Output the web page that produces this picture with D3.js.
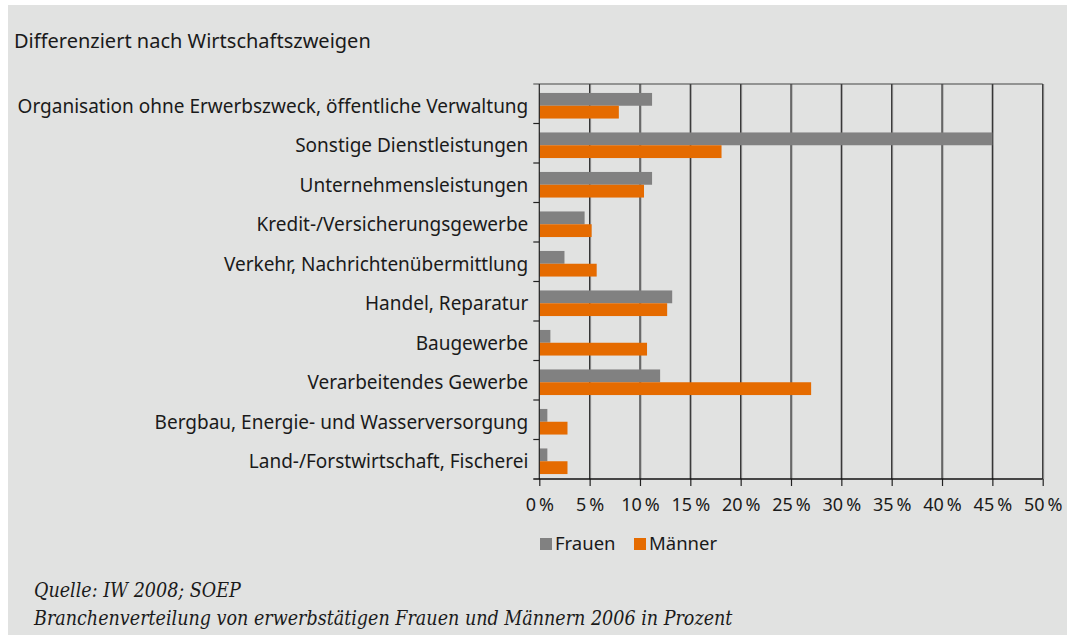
<!DOCTYPE html>
<html>
<head>
<meta charset="utf-8">
<script src="https://cdn.jsdelivr.net/npm/d3@7"></script>
<style>
  body { margin: 0; background: #fff; }
  svg text { font-family: "Noto Sans", sans-serif; fill: #1a1a1a; }
</style>
</head>
<body>
<div id="chart"></div>
<script>
const width = 1067
const height = 641
const margin = { top: 84, bottom: 162, left: 539.3, right: 24.3 }

// Daten
const categories = [
    "Organisation ohne Erwerbszweck, öffentliche Verwaltung",
    "Sonstige Dienstleistungen",
    "Unternehmensleistungen",
    "Kredit-/Versicherungsgewerbe",
    "Verkehr, Nachrichtenübermittlung",
    "Handel, Reparatur",
    "Baugewerbe",
    "Verarbeitendes Gewerbe",
    "Bergbau, Energie- und Wasserversorgung",
    "Land-/Forstwirtschaft, Fischerei"
]
const frauen = [11.2, 45.0, 11.2, 4.5, 2.5, 13.2, 1.1, 12.0, 0.8, 0.8]
const maenner = [7.9, 18.1, 10.4, 5.2, 5.7, 12.7, 10.7, 27.0, 2.8, 2.8]
const seriesNames = ["Frauen", "Männer"]
const seriesColors = ["#818181", "#e56b00"]
const xTicks = [0, 5, 10, 15, 20, 25, 30, 35, 40, 45, 50]

const data = categories.map((c, i) => ({ name: c, values: [frauen[i], maenner[i]] }))

const svg = d3.select("#chart")
    .append("svg")
    .attr("width", width)
    .attr("height", height)

// Hintergrund
svg.append("rect")
    .attr("x", 8).attr("y", 5)
    .attr("width", width - 8).attr("height", 630)
    .attr("fill", "#e1e2e1")

svg.append("text")
    .text("Differenziert nach Wirtschaftszweigen")
    .attr("x", 14).attr("y", 48)
    .attr("font-size", 20)

const x = d3.scaleLinear().domain([0, 50]).range([margin.left, width - margin.right])
const y = d3.scaleBand().domain(categories).range([margin.top, height - margin.bottom])
const y1 = d3.scaleBand().domain(seriesNames).range([2, y.bandwidth() + 2]).paddingOuter(0.543)
const color = d3.scaleOrdinal().domain(seriesNames).range(seriesColors)

// Gitternetzlinien
const grid = svg.append("g").attr("id", "grid")
grid.selectAll("line.shadow").data(xTicks.slice(1))
    .join("line").attr("class", "shadow")
    .attr("x1", d => x(d) + 1).attr("x2", d => x(d) + 1)
    .attr("y1", margin.top).attr("y2", height - margin.bottom)
    .attr("stroke", "#9a9a9a").attr("stroke-width", 1)
grid.selectAll("line.main").data(xTicks.slice(1))
    .join("line").attr("class", "main")
    .attr("x1", d => x(d)).attr("x2", d => x(d))
    .attr("y1", margin.top).attr("y2", height - margin.bottom)
    .attr("stroke", "#2e2e2e").attr("stroke-width", 1.2)
grid.append("line")
    .attr("x1", x(0) - 6).attr("x2", x(50))
    .attr("y1", margin.top).attr("y2", margin.top)
    .attr("stroke", "#444").attr("stroke-width", 1.2)

// Balken
const groups = svg.append("g").selectAll("g").data(data)
    .join("g")
    .attr("transform", d => `translate(0, ${y(d.name)})`)
groups.selectAll("rect")
    .data(d => d.values.map((v, i) => ({ key: seriesNames[i], value: v })))
    .join("rect")
    .attr("x", x(0))
    .attr("y", d => y1(d.key))
    .attr("width", d => x(d.value) - x(0))
    .attr("height", y1.bandwidth())
    .attr("fill", d => color(d.key))

// y-Achse
const yAxisGroup = svg.append("g")
yAxisGroup.append("line")
    .attr("x1", x(0)).attr("x2", x(0))
    .attr("y1", margin.top).attr("y2", height - margin.bottom)
    .attr("stroke", "#222").attr("stroke-width", 1.2)
yAxisGroup.selectAll("line.tick").data(categories.slice(1))
    .join("line").attr("class", "tick")
    .attr("x1", x(0) - 6).attr("x2", x(0))
    .attr("y1", d => y(d)).attr("y2", d => y(d))
    .attr("stroke", "#222").attr("stroke-width", 1.2)
yAxisGroup.selectAll("text").data(categories)
    .join("text")
    .text(d => d)
    .attr("x", x(0) - 11)
    .attr("y", d => y(d) + y.bandwidth() / 2 + 9)
    .attr("text-anchor", "end")
    .attr("font-size", 19)

// x-Achse
const xAxis = d3.axisBottom(x)
    .tickValues(xTicks)
    .tickSize(7)
    .tickSizeOuter(0)
    .tickFormat(d => d + "\u2009%")
const xAxisGroup = svg.append("g")
    .attr("transform", `translate(0, ${height - margin.bottom})`)
    .call(xAxis)
xAxisGroup.select(".domain").remove()
xAxisGroup.append("line")
    .attr("x1", x(0) - 6).attr("x2", x(50))
    .attr("stroke", "#111").attr("stroke-width", 1.5)
xAxisGroup.selectAll(".tick line").attr("stroke", "#222").attr("stroke-width", 1.2)
xAxisGroup.selectAll(".tick text")
    .attr("font-size", 18)
    .attr("font-family", "Noto Sans, sans-serif")
    .attr("fill", "#1a1a1a")
    .attr("y", 32)
    .attr("dy", 0)

// Legende
const legend = svg.append("g").attr("transform", "translate(540, 538)")
const legendX = [0, 94]
seriesNames.forEach((s, i) => {
    legend.append("rect")
        .attr("x", legendX[i]).attr("y", 0)
        .attr("width", 12).attr("height", 12)
        .attr("fill", color(s))
    legend.append("text")
        .text(s)
        .attr("x", legendX[i] + 15).attr("y", 12)
        .attr("font-size", 18.5)
})

// Quelle
svg.append("text")
    .text("Quelle: IW 2008; SOEP")
    .attr("x", 34).attr("y", 597)
    .attr("font-size", 19.5)
    .attr("font-style", "italic")
    .style("font-family", "'DejaVu Serif Condensed', serif")
svg.append("text")
    .text("Branchenverteilung von erwerbstätigen Frauen und Männern 2006 in Prozent")
    .attr("x", 34).attr("y", 625)
    .attr("font-size", 19.5)
    .attr("font-style", "italic")
    .style("font-family", "'DejaVu Serif Condensed', serif")
</script>
</body>
</html>
